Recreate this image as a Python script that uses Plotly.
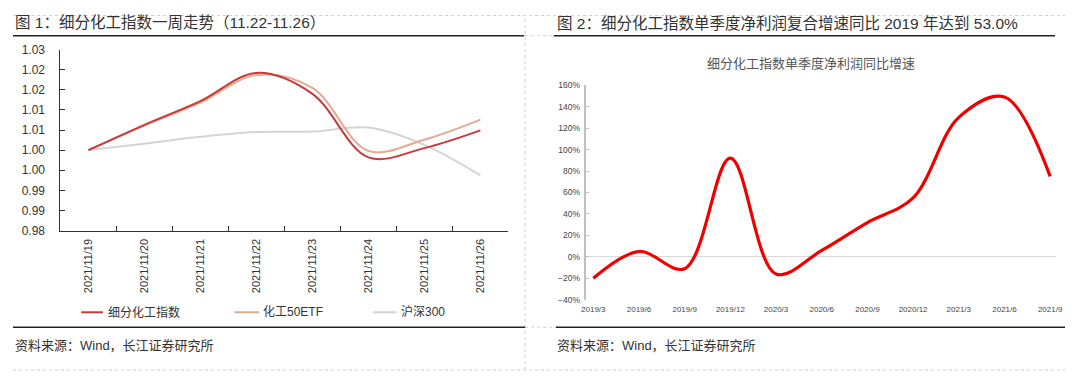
import plotly.graph_objects as go

# ---------------- data ----------------
dates_left = ["2021/11/19", "2021/11/20", "2021/11/21", "2021/11/22",
              "2021/11/23", "2021/11/24", "2021/11/25", "2021/11/26"]
sub_chem = [1.000, 1.0063, 1.0122, 1.0192, 1.0140, 0.9982, 1.0005, 1.0049]
chem_etf = [1.000, 1.0061, 1.0118, 1.0187, 1.0155, 0.9998, 1.0026, 1.0076]
hs300 = [1.000, 1.0016, 1.0033, 1.0045, 1.0046, 1.0056, 1.0013, 0.9937]
left_ytickvals = [0.98, 0.985, 0.99, 0.995, 1.00, 1.005, 1.01, 1.015, 1.02, 1.025]
left_yticktext = ["0.98", "0.99", "0.99", "1.00", "1.00", "1.01", "1.01", "1.02", "1.02", "1.03"]

quarters = ["2019/3", "2019/6", "2019/9", "2019/12", "2020/3", "2020/6",
            "2020/9", "2020/12", "2021/3", "2021/6", "2021/9"]
profit_yoy = [-0.20, 0.05, -0.11, 0.92, -0.16, 0.06, 0.32, 0.55, 1.30, 1.49, 0.75]

legend_names = ["细分化工指数", "化工50ETF", "沪深300"]
colors = ["#C9393C", "#E2AB92", "#D4D4D4"]

FONT = "Liberation Sans, Arial, Noto Sans CJK SC"
# page is 1080x385; the html body has an 8px margin, so the figure is 16px smaller
OFF = 8
W, H = 1080 - 2 * OFF, 385 - 2 * OFF


def px(x):
    return max(0.0, min(1.0, (x - OFF) / W))


def py(y):
    return max(0.0, min(1.0, 1 - (y - OFF) / H))


fig = go.Figure()

series = [(legend_names[2], hs300, colors[2]),
          (legend_names[1], chem_etf, colors[1]),
          (legend_names[0], sub_chem, colors[0])]
for name, vals, col in series:
    fig.add_trace(go.Scatter(x=dates_left, y=vals, mode="lines", name=name,
                             line=dict(color=col, width=2, shape="spline", smoothing=1.0),
                             xaxis="x", yaxis="y", showlegend=False))

fig.add_trace(go.Scatter(x=quarters, y=profit_yoy, mode="lines", name="净利润同比",
                         line=dict(color="#F00000", width=3.2, shape="spline", smoothing=1.0),
                         xaxis="x2", yaxis="y2", showlegend=False))

fig.update_layout(
    width=W, height=H,
    margin=dict(l=0, r=0, t=0, b=0),
    paper_bgcolor="white", plot_bgcolor="white",
    font=dict(family=FONT, color="#333333"),
    xaxis=dict(domain=[px(56), px(509)], type="category", range=[-0.5, 7.5],
               showline=True, linecolor="#333333", linewidth=1,
               ticks="inside", ticklen=5, tickcolor="#333333", tickson="boundaries",
               tickangle=-90, tickfont=dict(size=11, color="#333333"),
               ticklabelstandoff=3, showgrid=False, zeroline=False, anchor="y"),
    yaxis=dict(domain=[py(232), py(44)], range=[0.98, 1.025],
               tickvals=left_ytickvals, ticktext=left_yticktext,
               showline=True, linecolor="#333333", linewidth=1,
               ticks="inside", ticklen=5, tickcolor="#333333",
               tickfont=dict(size=12, color="#333333"), ticklabelstandoff=12,
               showgrid=False, zeroline=False, anchor="x"),
    xaxis2=dict(domain=[px(588), px(1063)], type="category", range=[-0.15, 10.13],
                showline=False, ticks="", tickfont=dict(size=8, color="#444444"),
                ticklabelstandoff=3, showgrid=False, zeroline=False, anchor="y2"),
    yaxis2=dict(domain=[py(304), py(81)], range=[-0.4, 1.6], dtick=0.2, tickformat=".0%",
                showline=True, linecolor="#BFBFBF", linewidth=1.5,
                ticks="inside", ticklen=3, tickcolor="#BFBFBF",
                tickfont=dict(size=8.5, color="#444444"), ticklabelstandoff=3,
                showgrid=False, zeroline=True, zerolinecolor="#D9D9D9", zerolinewidth=1,
                anchor="x2"),
)

shapes = []
dash_col = "#D0D0D0"
# panel dashed borders
shapes.append(dict(type="line", xref="paper", yref="paper", x0=px(526), x1=px(526),
                   y0=py(381), y1=py(4), line=dict(color=dash_col, width=1, dash="dot")))
for yy in [8.5, 380]:
    shapes.append(dict(type="line", xref="paper", yref="paper", x0=px(0), x1=px(1080),
                       y0=py(yy), y1=py(yy), line=dict(color=dash_col, width=1, dash="dot")))
# dashed gap lines
for yy in [29.5, 332.5]:
    shapes.append(dict(type="line", xref="paper", yref="paper", x0=px(526), x1=px(555),
                       y0=py(yy), y1=py(yy), line=dict(color=dash_col, width=1, dash="dot")))
# black title / source rules
for x0, x1, yy in [(5, 525, 29.5), (555, 1062, 29.5), (3, 526, 332.5), (557, 1078, 332.5)]:
    shapes.append(dict(type="line", xref="paper", yref="paper", x0=px(x0), x1=px(x1),
                       y0=py(yy), y1=py(yy), line=dict(color="#222222", width=1.6)))

# left legend (manual)
leg_items = [(77, 99, 102, legend_names[0], colors[0]),
             (232, 257, 259, legend_names[1], colors[1]),
             (372, 396, 398, legend_names[2], colors[2])]
annotations = []
for lx0, lx1, tx, name, col in leg_items:
    shapes.append(dict(type="line", xref="paper", yref="paper", x0=px(lx0), x1=px(lx1),
                       y0=py(317), y1=py(317), line=dict(color=col, width=2)))
    annotations.append(dict(x=px(tx), y=py(317), xref="paper", yref="paper",
                            text=name, showarrow=False, xanchor="left", yanchor="middle",
                            font=dict(size=12, color="#333333", family=FONT)))

annotations += [
    dict(x=px(5), y=py(15.5), xref="paper", yref="paper", xanchor="left", yanchor="middle",
         text="图 1：细分化工指数一周走势（11.22-11.26）", showarrow=False,
         font=dict(size=15.5, color="#333333", family=FONT)),
    dict(x=px(556), y=py(17), xref="paper", yref="paper", xanchor="left", yanchor="middle",
         text="图 2：细分化工指数单季度净利润复合增速同比 2019 年达到 53.0%", showarrow=False,
         font=dict(size=15.5, color="#333333", family=FONT)),
    dict(x=px(815), y=py(58), xref="paper", yref="paper", xanchor="center", yanchor="middle",
         text="细分化工指数单季度净利润同比增速", showarrow=False,
         font=dict(size=13, color="#555555", family=FONT)),
    dict(x=px(5), y=py(352), xref="paper", yref="paper", xanchor="left", yanchor="middle",
         text="资料来源：Wind，长江证券研究所", showarrow=False,
         font=dict(size=13, color="#333333", family=FONT)),
    dict(x=px(556), y=py(352), xref="paper", yref="paper", xanchor="left", yanchor="middle",
         text="资料来源：Wind，长江证券研究所", showarrow=False,
         font=dict(size=13, color="#333333", family=FONT)),
]

fig.update_layout(shapes=shapes, annotations=annotations)
fig.write_html("out.html")
